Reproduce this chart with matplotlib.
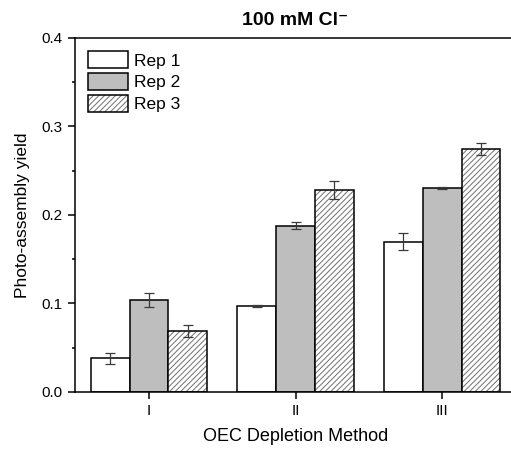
import numpy as np
import matplotlib
matplotlib.use('Agg')
import matplotlib.pyplot as plt
from matplotlib.legend_handler import HandlerTuple

# values
methods = ['I', 'II', 'III']
rep1 = [0.038, 0.097, 0.170]
rep1_err = [0.0065, 0.0008, 0.0095]
rep2 = [0.104, 0.188, 0.230]
rep2_err = [0.0075, 0.004, 0.0012]
rep3 = [0.069, 0.228, 0.275]
rep3_err = [0.0065, 0.0105, 0.0068]
rep_names = ['Rep 1', 'Rep 2', 'Rep 3']

plt.rcParams['font.family'] = ['Liberation Sans', 'DejaVu Sans']
plt.rcParams['hatch.linewidth'] = 0.7

fig = plt.figure(figsize=(5.11, 4.5), dpi=100)
ax = fig.add_axes([0.1468, 0.1289, 0.863, 0.7867])

x = np.arange(len(methods))
w = 0.266
lw = 1.1
err_kw = dict(fmt='none', ecolor='#3a3a3a', elinewidth=0.9, capsize=3.5,
              capthick=0.9, zorder=5)

b1 = ax.bar(x - w, rep1, w, color='white', edgecolor='black', linewidth=lw, zorder=2)
b2 = ax.bar(x, rep2, w, color='#bebebe', edgecolor='black', linewidth=lw, zorder=2)
# hatch in grey, outline in black drawn separately
b3h = ax.bar(x + w, rep3, w, color='white', edgecolor='#707070', hatch='//////',
             linewidth=0, zorder=2)
b3o = ax.bar(x + w, rep3, w, fill=False, edgecolor='black', linewidth=lw, zorder=3)

ax.errorbar(x - w, rep1, yerr=rep1_err, **err_kw)
ax.errorbar(x, rep2, yerr=rep2_err, **err_kw)
ax.errorbar(x + w, rep3, yerr=rep3_err, **err_kw)

ax.set_xlim(-0.505, 2.505)
ax.set_ylim(0, 0.4)
ax.set_xticks(x)
ax.set_xticklabels(methods)
ax.set_yticks([0.0, 0.1, 0.2, 0.3, 0.4])
ax.set_yticks([0.05, 0.15, 0.25, 0.35], minor=True)
ax.tick_params(axis='both', which='major', direction='out', length=5, width=1.1,
               labelsize=11, pad=4)
ax.tick_params(axis='y', which='minor', direction='out', length=2.5, width=1.1)
for s in ax.spines.values():
    s.set_linewidth(1.1)

ax.set_xlabel('OEC Depletion Method', fontsize=13, labelpad=7)
ax.set_ylabel('Photo-assembly yield', fontsize=12.5, labelpad=8)
ax.set_title('100 mM Cl\u207b', fontsize=14, fontweight='bold', pad=9)

handles = [b1[0], b2[0], (b3h[0], b3o[0])]
ax.legend(handles, rep_names, loc='upper left', bbox_to_anchor=(0.0295, 0.962),
          frameon=False, fontsize=12.5, borderpad=0, borderaxespad=0,
          handlelength=2.3, handleheight=1.1, handletextpad=0.35,
          labelspacing=0.26, handler_map={tuple: HandlerTuple(ndivide=1)})

fig.savefig('out.png', dpi=100)
